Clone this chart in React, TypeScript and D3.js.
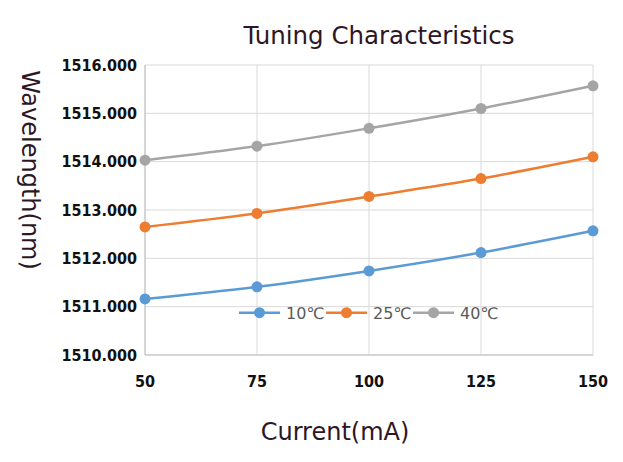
import React from 'react';
import * as d3 from 'd3';

// Currents (mA) on the x axis
const currents = [50, 75, 100, 125, 150];
const xTicks = [50, 75, 100, 125, 150];
const yTicks = [1510, 1511, 1512, 1513, 1514, 1515, 1516];

// Wavelength (nm) per temperature
const wl10 = [1511.16, 1511.41, 1511.74, 1512.12, 1512.57];
const wl25 = [1512.65, 1512.93, 1513.28, 1513.65, 1514.1];
const wl40 = [1514.03, 1514.32, 1514.69, 1515.1, 1515.57];

const seriesNames = ['10℃', '25℃', '40℃'];

const W = 623;
const H = 462;
const margin = { top: 65, right: 30, bottom: 107, left: 145 };

export default function App() {
  const innerW = 593 - margin.left;
  const innerH = 355 - margin.top;

  const x = d3.scaleLinear().domain([50, 150]).range([0, innerW]);
  const y = d3.scaleLinear().domain([1510, 1516]).range([innerH, 0]);

  const series = [
    { name: seriesNames[0], values: wl10, color: '#5b9bd5' },
    { name: seriesNames[1], values: wl25, color: '#ed7d31' },
    { name: seriesNames[2], values: wl40, color: '#a5a5a5' },
  ];

  const line = d3
    .line<number>()
    .x((_, i) => x(currents[i]))
    .y((d) => y(d))
    .curve(d3.curveCatmullRom.alpha(0.5));

  const titleFont = 'Tahoma, "DejaVu Sans", sans-serif';
  const tickFont = '"DejaVu Sans Condensed", "DejaVu Sans", sans-serif';
  const titleColor = '#2e1624';

  // legend sits inside the plot, just under the 1511 gridline
  const legendY = y(1511) + 6;
  const legendStart = 239 - margin.left;
  const legendStep = 87;

  return (
    <svg width={W} height={H} style={{ position: 'absolute', left: 0, top: 0, background: '#fff' }}>
      <rect width={W} height={H} fill="#fff" />
      <text x={379} y={44} textAnchor="middle" fontFamily={titleFont} fontSize={24.5} fill={titleColor}>
        Tuning Characteristics
      </text>

      <g transform={`translate(${margin.left},${margin.top})`}>
        {/* horizontal gridlines */}
        {yTicks.map((t) => (
          <line key={`h${t}`} x1={0} x2={innerW} y1={y(t)} y2={y(t)} stroke="#d9d9d9" strokeWidth={1} />
        ))}
        {/* vertical gridlines */}
        {xTicks.map((t) => (
          <line key={`v${t}`} x1={x(t)} x2={x(t)} y1={0} y2={innerH} stroke="#d9d9d9" strokeWidth={1} />
        ))}
        <line x1={0} x2={0} y1={0} y2={innerH} stroke="#bfbfbf" />
        <line x1={0} x2={innerW} y1={innerH} y2={innerH} stroke="#bfbfbf" />

        {/* y tick labels */}
        {yTicks.map((t) => (
          <text
            key={`yl${t}`}
            x={-8}
            y={y(t) + 5.5}
            textAnchor="end"
            fontFamily={tickFont}
            fontSize={16}
            fontWeight="bold"
            fill="#111"
          >
            {d3.format('.3f')(t)}
          </text>
        ))}
        {/* x tick labels */}
        {xTicks.map((t) => (
          <text
            key={`xl${t}`}
            x={x(t)}
            y={innerH + 32}
            textAnchor="middle"
            fontFamily={tickFont}
            fontSize={16}
            fontWeight="bold"
            fill="#111"
          >
            {t}
          </text>
        ))}

        {series.map((s) => (
          <g key={s.name}>
            <path d={line(s.values) || ''} fill="none" stroke={s.color} strokeWidth={2.5} />
            {s.values.map((v, i) => (
              <circle key={i} cx={x(currents[i])} cy={y(v)} r={5.5} fill={s.color} />
            ))}
          </g>
        ))}

        {/* legend */}
        {series.map((s, i) => {
          const lx = legendStart + i * legendStep;
          return (
            <g key={`lg${s.name}`} transform={`translate(${lx},${legendY})`}>
              <line x1={0} x2={41} y1={0} y2={0} stroke={s.color} strokeWidth={2.5} />
              <circle cx={20.5} cy={0} r={5.5} fill={s.color} />
              <text x={47} y={6} fontFamily={titleFont} fontSize={16} fill="#595959">
                {s.name}
              </text>
            </g>
          );
        })}
      </g>

      {/* axis titles */}
      <text
        transform="translate(22,170) rotate(90)"
        textAnchor="middle"
        fontFamily={titleFont}
        fontSize={24}
        fill={titleColor}
      >
        Wavelength(nm)
      </text>
      <text x={335} y={440} textAnchor="middle" fontFamily={titleFont} fontSize={24} fill={titleColor}>
        Current(mA)
      </text>
    </svg>
  );
}
